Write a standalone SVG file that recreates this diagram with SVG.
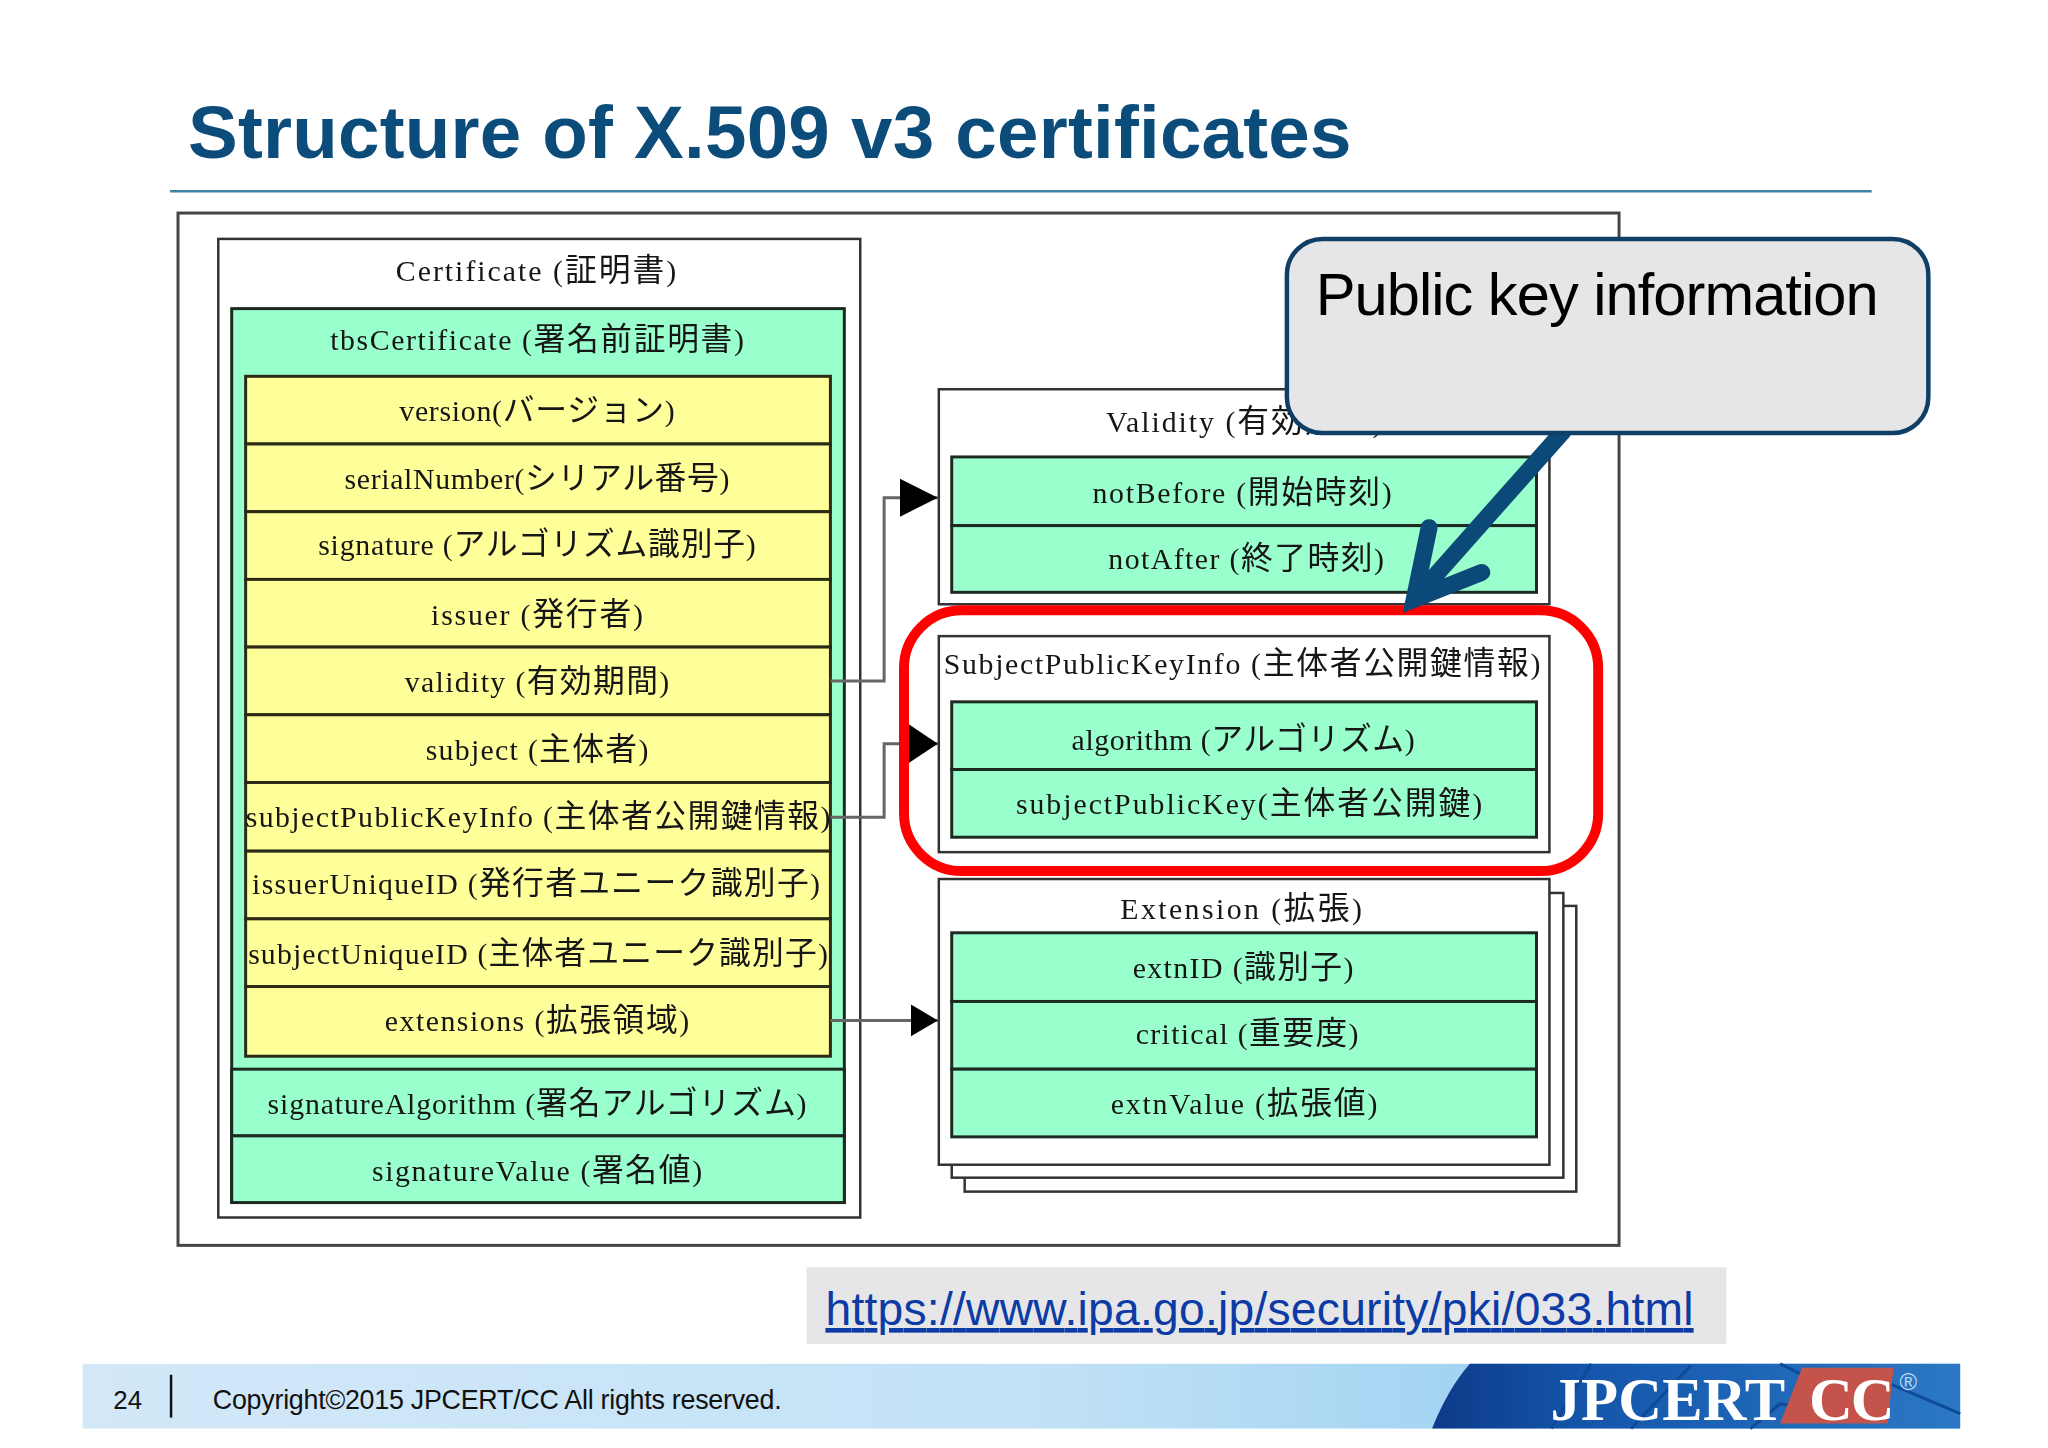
<svg xmlns="http://www.w3.org/2000/svg" width="2048" height="1448" viewBox="0 0 2048 1448">
<style>
text{font-family:"Liberation Serif","Noto Sans CJK JP",serif}
.s{font-family:"Liberation Sans","Noto Sans CJK JP",sans-serif}
.l{font-size:30px;fill:#161616;text-anchor:middle;transform:translate(0,2px)}
.l tspan{font-size:32px;font-family:"Noto Sans CJK JP",sans-serif}
.box{fill:#fff;stroke:#333;stroke-width:2.5}
.g{fill:#99ffcc;stroke:#1c2b24;stroke-width:3}
.y{fill:#ffff99;stroke:#2a2a14;stroke-width:3}
.c{fill:none;stroke:#666;stroke-width:3}
.soft{filter:url(#soft)}
</style>
<defs>
<filter id="soft" x="-2%" y="-2%" width="104%" height="104%"><feGaussianBlur stdDeviation="0.6"/></filter>
<marker id="a" markerUnits="userSpaceOnUse" markerWidth="40" markerHeight="40" refX="38" refY="20" orient="auto"><path d="M0 1L38 20L0 39Z" fill="#000"/></marker>
<marker id="b" markerUnits="userSpaceOnUse" markerWidth="30" markerHeight="40" refX="30" refY="20" orient="auto"><path d="M0 0L30 20L0 40Z" fill="#000"/></marker>
<marker id="d" markerUnits="userSpaceOnUse" markerWidth="30" markerHeight="34" refX="27" refY="17" orient="auto"><path d="M0 1L27 17L0 33Z" fill="#000"/></marker>
<linearGradient id="fg" x1="0" x2="1" y1="0" y2="0"><stop offset="0" stop-color="#d2e8f9"/><stop offset=".5" stop-color="#c3e2f6"/><stop offset="1" stop-color="#7fc3ee"/></linearGradient>
<linearGradient id="lg" x1="0" x2="1" y1="0" y2="0"><stop offset="0" stop-color="#0d3a88"/><stop offset=".3" stop-color="#1456ab"/><stop offset="1" stop-color="#2c78c4"/></linearGradient>
</defs>
<rect width="2048" height="1448" fill="#fff"/>
<g id="page" transform="scale(0.9945 0.9955)">
<g id="title"><text class="s" x="189" y="159" font-size="75" font-weight="700" fill="#0b4c7a" textLength="1170">Structure of X.509 v3 certificates</text>
<line x1="171" y1="192" x2="1882" y2="192" stroke="#3f82a6" stroke-width="2.500"/></g>
<rect id="frame" class="soft" x="179" y="214" width="1449" height="1037" fill="#fff" stroke="#444" stroke-width="3"/>
<g id="certificate" class="soft">
<rect class="box" x="219.500" y="240" width="645.500" height="983" stroke-width="4"/>
<text class="l" x="539" y="280" textLength="282">Certificate (<tspan>証明書</tspan>)</text>
</g>
<g id="tbsCertificate" class="soft">
<rect class="g" x="233" y="310" width="616" height="898"/>
<text class="l" x="540" y="350" textLength="416">tbsCertificate (<tspan>署名前証明書</tspan>)</text>
</g>
<g id="version" class="soft"><rect class="y" x="247" y="378" width="588" height="68"/><text class="l" x="540" y="421" textLength="277">version(<tspan>バージョン</tspan>)</text></g>
<g id="serialNumber" class="soft"><rect class="y" x="247" y="446" width="588" height="68"/><text class="l" x="540" y="489" textLength="387">serialNumber(<tspan>シリアル番号</tspan>)</text></g>
<g id="signature" class="soft"><rect class="y" x="247" y="514" width="588" height="68"/><text class="l" x="540" y="556" textLength="440">signature (<tspan>アルゴリズム識別子</tspan>)</text></g>
<g id="issuer" class="soft"><rect class="y" x="247" y="582" width="588" height="68"/><text class="l" x="540" y="626" textLength="213">issuer (<tspan>発行者</tspan>)</text></g>
<g id="validity" class="soft"><rect class="y" x="247" y="650" width="588" height="68"/><text class="l" x="540" y="693" textLength="266">validity (<tspan>有効期間</tspan>)</text></g>
<g id="subject" class="soft"><rect class="y" x="247" y="718" width="588" height="68"/><text class="l" x="540" y="761" textLength="224">subject (<tspan>主体者</tspan>)</text></g>
<g id="subjectPublicKeyInfo" class="soft"><rect class="y" x="247" y="786" width="588" height="69"/><text class="l" x="541" y="829" textLength="588">subjectPublicKeyInfo (<tspan>主体者公開鍵情報</tspan>)</text></g>
<g id="issuerUniqueID" class="soft"><rect class="y" x="247" y="855" width="588" height="68"/><text class="l" x="539" y="896" textLength="571">issuerUniqueID (<tspan>発行者ユニーク識別子</tspan>)</text></g>
<g id="subjectUniqueID" class="soft"><rect class="y" x="247" y="923" width="588" height="68"/><text class="l" x="541" y="966" textLength="583">subjectUniqueID (<tspan>主体者ユニーク識別子</tspan>)</text></g>
<g id="extensions" class="soft"><rect class="y" x="247" y="991" width="588" height="70"/><text class="l" x="540" y="1034" textLength="306">extensions (<tspan>拡張領域</tspan>)</text></g>
<g id="signatureAlgorithm" class="soft"><rect class="g" x="233" y="1074" width="616" height="67"/><text class="l" x="540" y="1117" textLength="542">signatureAlgorithm (<tspan>署名アルゴリズム</tspan>)</text></g>
<g id="signatureValue" class="soft"><rect class="g" x="233" y="1141" width="616" height="67"/><text class="l" x="540" y="1184" textLength="332">signatureValue (<tspan>署名値</tspan>)</text></g>

<g id="Validity" class="soft">
<rect class="box" x="944" y="391" width="614" height="216"/>
<text class="l" x="1251" y="432" textLength="278">Validity (<tspan>有効期間</tspan>)</text>
<rect class="g" x="957" y="459" width="588" height="69"/><text class="l" x="1249" y="503" textLength="301">notBefore (<tspan>開始時刻</tspan>)</text>
<rect class="g" x="957" y="528" width="588" height="67"/><text class="l" x="1253" y="570" textLength="277">notAfter (<tspan>終了時刻</tspan>)</text>
</g>
<g id="SubjectPublicKeyInfo" class="soft">
<rect class="box" x="944" y="639" width="614" height="217"/>
<text class="l" x="1249" y="675" textLength="600">SubjectPublicKeyInfo (<tspan>主体者公開鍵情報</tspan>)</text>
<rect class="g" x="957" y="705" width="588" height="68"/><text class="l" x="1250" y="751" textLength="345">algorithm (<tspan>アルゴリズム</tspan>)</text>
<rect class="g" x="957" y="773" width="588" height="68"/><text class="l" x="1256" y="816" textLength="469">subjectPublicKey(<tspan>主体者公開鍵</tspan>)</text>
</g>
<g id="Extension" class="soft">
<rect class="box" x="970" y="910" width="615" height="287"/>
<rect class="box" x="957" y="897" width="615" height="286"/>
<rect class="box" x="944" y="883" width="614" height="287"/>
<text class="l" x="1248" y="921" textLength="243">Extension (<tspan>拡張</tspan>)</text>
<rect class="g" x="957" y="937" width="588" height="69"/><text class="l" x="1250" y="980" textLength="222">extnID (<tspan>識別子</tspan>)</text>
<rect class="g" x="957" y="1006" width="588" height="68"/><text class="l" x="1254" y="1047" textLength="224">critical (<tspan>重要度</tspan>)</text>
<rect class="g" x="957" y="1074" width="588" height="68"/><text class="l" x="1251" y="1117" textLength="268">extnValue (<tspan>拡張値</tspan>)</text>
</g>
<g id="connectors">
<path class="c" d="M835 684H889V500H943" marker-end="url(#a)"/>
<path class="c" d="M835 821H889V747H943" marker-end="url(#b)"/>
<path class="c" d="M835 1025H943" marker-end="url(#d)"/>
</g>
<rect id="highlight" x="909" y="613" width="698" height="262" rx="58" fill="none" stroke="#fe0000" stroke-width="10"/>
<g id="callout">
<path d="M1572 433L1422 602M1437 530L1422 602L1490 575" fill="none" stroke="#0b4a78" stroke-width="17" stroke-linecap="round" stroke-linejoin="miter"/>
<rect x="1294" y="240" width="645" height="195" rx="36" fill="#e6e6e8" stroke="#0f3f66" stroke-width="4.500"/>
<text class="s" x="1323" y="316" font-size="60" fill="#000" textLength="566">Public key information</text>
</g>
<g id="url">
<rect x="811" y="1273" width="925" height="77" fill="#e6e6e8"/>
<text class="s" x="830" y="1331" font-size="46.500" fill="#0d3ba5" text-decoration="underline" textLength="873">https://www.ipa.go.jp/security/pki/033.html</text>
</g>
<g id="footer">
<rect x="83" y="1370" width="1888" height="65" fill="url(#fg)"/>
<path d="M1440 1435Q1456 1395 1478 1370H1971V1435Z" fill="url(#lg)"/>
<path d="M1560 1435L1600 1370M1640 1435L1700 1372M1760 1435L1790 1410L1850 1420M1790 1370L1850 1400L1900 1390L1971 1420" fill="none" stroke="#0f4a98" stroke-width="3"/>
<path d="M1812 1374H1904L1898 1430H1790Z" fill="#c4544b"/>
<text x="1559" y="1426" font-size="61" font-weight="700" fill="#fff" textLength="236">JPCERT</text>
<text x="1819" y="1426" font-size="61" font-weight="700" fill="#fff" textLength="86">CC</text>
<text class="s" x="1910" y="1396" font-size="24" fill="#b8d8f2">®</text>
<text class="s" x="114" y="1415" font-size="26" fill="#111">24</text>
<line x1="172" y1="1381" x2="172" y2="1424" stroke="#111" stroke-width="2.500"/>
<text class="s" x="214" y="1415" font-size="27" fill="#111" textLength="572">Copyright©2015 JPCERT/CC All rights reserved.</text>
</g>
</g>
</svg>
